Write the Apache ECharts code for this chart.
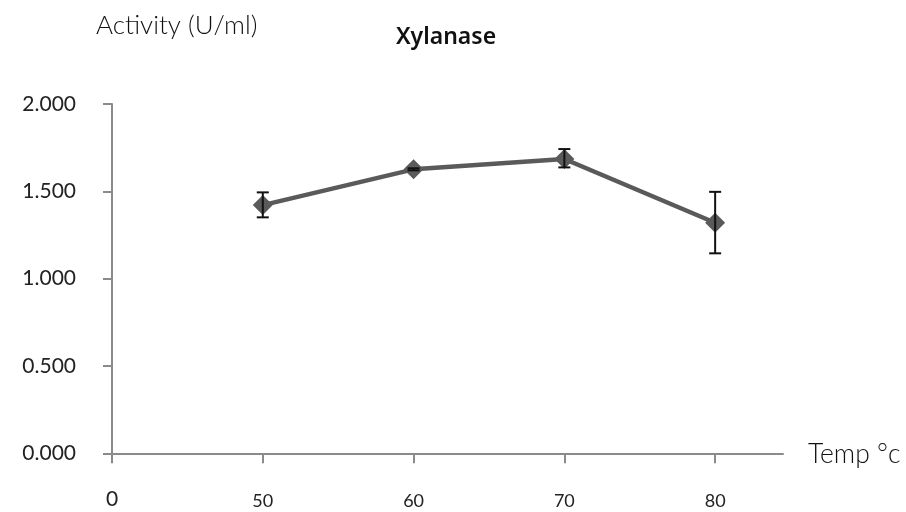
<!DOCTYPE html>
<html><head><meta charset="utf-8">
<script src="https://cdn.jsdelivr.net/npm/echarts@6/dist/echarts.min.js"></script>
<style>html,body{margin:0;padding:0;background:#fff}#c{width:906px;height:512px}</style>
</head><body><div id="c"></div>
<script>
const tempLabels = ['0', '50', '60', '70', '80'];
const xPositions = [1, 2, 3, 4];
const activity = [1.421, 1.626, 1.685, 1.320];
const errLow = [1.351, 1.620, 1.637, 1.145];
const errHigh = [1.494, 1.632, 1.742, 1.497];
const yTicks = [0, 0.5, 1.0, 1.5, 2.0];

const chart = echarts.init(document.getElementById('c'), null, {renderer: 'canvas'});
const font = 'Lato, "Open Sans", sans-serif';
chart.setOption({
  animation: false,
  graphic: [
    {type: 'text', x: 96, y: 26, style: {text: 'Activity (U/ml)', fontFamily: font, fontSize: 26, fontWeight: 300, fill: '#111', verticalAlign: 'middle'}},
    {type: 'text', x: 446, y: 37, style: {text: 'Xylanase', fontFamily: '"Noto Sans", "Open Sans", sans-serif', fontSize: 23, fontWeight: 600, fill: '#111', align: 'center', verticalAlign: 'middle'}},
    {type: 'text', x: 808, y: 454, style: {text: 'Temp °c', fontFamily: font, fontSize: 26.5, fontWeight: 300, fill: '#111', verticalAlign: 'middle'}}
  ],
  grid: {left: 112, right: 123, top: 104, bottom: 58.7, containLabel: false},
  xAxis: {
    type: 'value', min: 0, max: 4.45, interval: 1,
    splitLine: {show: false},
    axisLine: {show: true, lineStyle: {color: '#8a8a8a', width: 2}},
    axisTick: {show: true, length: 10, customValues: [0, 1, 2, 3, 4], lineStyle: {color: '#8a8a8a', width: 2}},
    axisLabel: {
      customValues: [0, 1, 2, 3, 4], margin: 38,
      formatter: v => v === 0 ? '{big|' + tempLabels[0] + '}' : '{sm|' + tempLabels[Math.round(v)] + '}',
      rich: {
        big: {fontFamily: font, fontSize: 21, color: '#222', lineHeight: 16},
        sm: {fontFamily: font, fontSize: 18, color: '#222', lineHeight: 20}
      }
    }
  },
  yAxis: {
    type: 'value', min: 0, max: 2, interval: 0.5,
    splitLine: {show: false},
    axisLine: {show: true, lineStyle: {color: '#8a8a8a', width: 2}},
    axisTick: {show: true, length: 9, lineStyle: {color: '#8a8a8a', width: 2}},
    axisLabel: {
      margin: 36, fontFamily: font, fontSize: 21, color: '#222',
      formatter: v => yTicks.includes(v) ? v.toFixed(3) : ''
    }
  },
  series: [
    {
      type: 'line', data: xPositions.map((x, i) => [x, activity[i]]),
      symbol: 'diamond', symbolSize: 20, showSymbol: true,
      lineStyle: {color: '#5a5a5a', width: 4.5},
      itemStyle: {color: '#5a5a5a'}, z: 2
    },
    {
      type: 'custom', z: 3,
      data: xPositions.map((x, i) => [x, errLow[i], errHigh[i]]),
      renderItem: (params, api) => {
        const lo = api.coord([api.value(0), api.value(1)]);
        const hi = api.coord([api.value(0), api.value(2)]);
        const hw = 6;
        const st = {stroke: '#111', lineWidth: 2};
        return {type: 'group', children: [
          {type: 'line', shape: {x1: lo[0], y1: lo[1], x2: hi[0], y2: hi[1]}, style: st},
          {type: 'line', shape: {x1: lo[0] - hw, y1: lo[1], x2: lo[0] + hw, y2: lo[1]}, style: st},
          {type: 'line', shape: {x1: hi[0] - hw, y1: hi[1], x2: hi[0] + hw, y2: hi[1]}, style: st}
        ]};
      }
    }
  ]
});
</script></body></html>
